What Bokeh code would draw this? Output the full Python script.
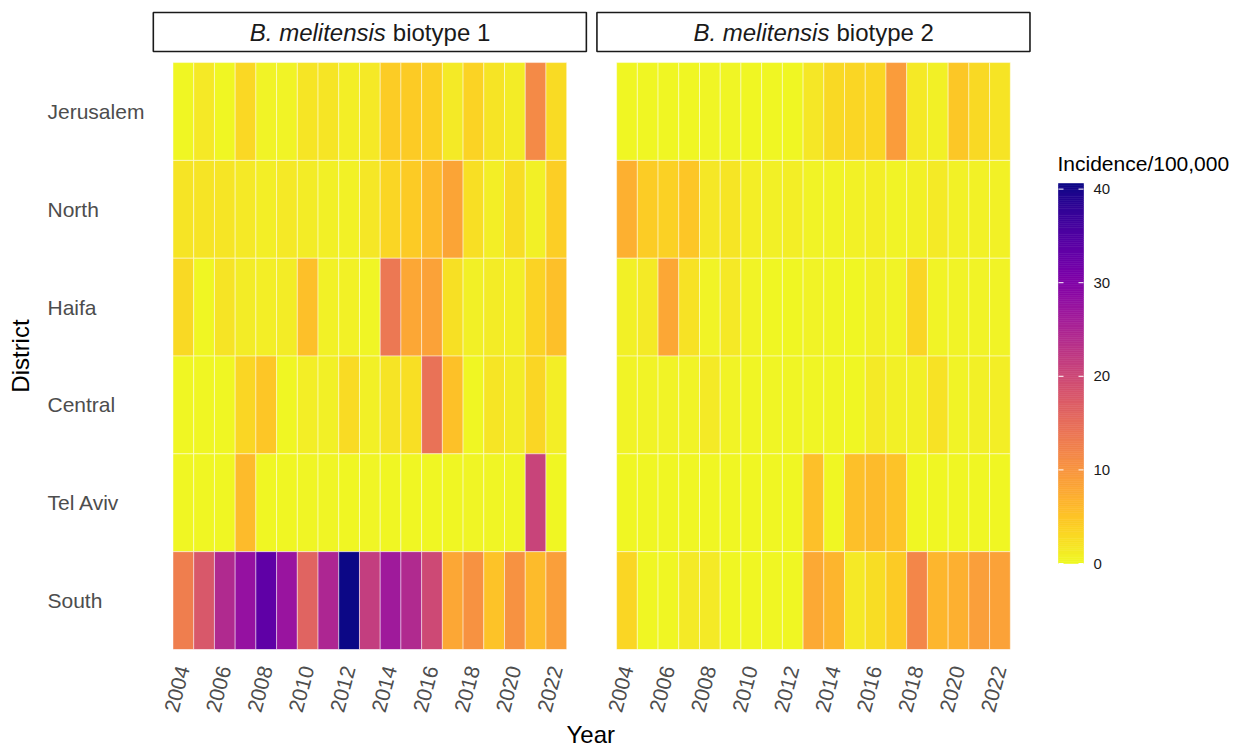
import numpy as np
from bokeh.plotting import figure
from bokeh.models import (ColumnDataSource, LinearColorMapper,
                          FixedTicker, Range1d, Title)
from bokeh.palettes import Plasma256
from bokeh.embed import file_html
from bokeh.resources import INLINE
from bokeh.core.properties import value

# ---------------- data ----------------
years = list(range(2004, 2023))
tick_years = [2004, 2006, 2008, 2010, 2012, 2014, 2016, 2018, 2020, 2022]
districts = ["Jerusalem", "North", "Haifa", "Central", "Tel Aviv", "South"]
strip_italic = ["B. melitensis", "B. melitensis"]
strip_plain = ["biotype 1", "biotype 2"]
legend_title = "Incidence/100,000"
x_title = "Year"
y_title = "District"
cbar_ticks = [0, 10, 20, 30, 40]

# biotype 1 (incidence per 100,000), 2004..2022
b1_jerusalem = [0.3, 1.5, 0.3, 3.1, 0.5, 0.5, 1.8, 1.8, 1.0, 1.5, 4.2, 4.4, 3.9, 1.3, 3.6, 2.0, 1.2, 11.3, 2.8]
b1_north = [2.0, 2.0, 1.8, 1.5, 1.0, 1.5, 1.2, 0.8, 0.7, 1.6, 3.2, 4.4, 6.0, 8.3, 2.5, 1.0, 2.6, 0.8, 4.1]
b1_haifa = [3.0, 0.3, 2.0, 1.2, 1.0, 1.2, 5.5, 0.7, 0.7, 0.4, 13.5, 8.0, 8.6, 2.3, 0.8, 1.2, 1.0, 3.5, 5.4]
b1_central = [0.3, 0.3, 0.3, 3.2, 4.9, 0.3, 1.0, 0.8, 2.8, 0.8, 2.0, 2.4, 14.3, 5.3, 0.3, 1.9, 1.2, 3.2, 1.0]
b1_telaviv = [0.3, 0.3, 0.3, 6.0, 0.3, 0.3, 0.4, 0.4, 0.3, 0.4, 0.3, 0.3, 0.3, 0.3, 0.4, 0.4, 0.4, 20.7, 0.3]
b1_south = [12.8, 17.9, 24.4, 27.8, 33.5, 27.4, 16.2, 24.8, 40.6, 21.5, 26.6, 24.4, 19.9, 8.0, 10.4, 5.2, 10.4, 6.0, 9.0]

# biotype 2
b2_jerusalem = [0.3, 0.3, 0.3, 0.3, 0.4, 0.4, 0.3, 0.3, 0.3, 1.6, 3.0, 3.3, 3.3, 9.2, 1.5, 0.8, 4.6, 2.9, 2.0]
b2_north = [7.0, 4.2, 3.7, 4.8, 1.6, 1.9, 1.0, 0.8, 1.0, 0.5, 0.5, 0.7, 1.1, 0.5, 0.8, 1.4, 0.7, 0.7, 0.7]
b2_haifa = [0.8, 1.3, 8.0, 2.2, 0.5, 1.5, 0.5, 0.3, 0.3, 0.5, 0.4, 0.3, 0.8, 0.5, 3.4, 0.5, 0.5, 0.6, 0.6]
b2_central = [0.5, 0.5, 0.5, 0.5, 1.3, 0.6, 0.4, 0.4, 0.4, 0.4, 0.4, 0.3, 1.3, 0.8, 0.8, 2.2, 0.6, 0.8, 1.0]
b2_telaviv = [0.3, 0.3, 0.3, 0.3, 0.3, 0.3, 0.3, 0.3, 0.3, 5.5, 0.3, 5.5, 5.9, 5.1, 0.3, 0.3, 0.3, 0.3, 0.3]
b2_south = [3.2, 0.3, 0.3, 1.4, 1.3, 0.3, 0.3, 0.3, 0.3, 7.8, 6.6, 1.5, 2.6, 4.4, 11.8, 6.5, 7.0, 9.0, 8.6]

biotype1 = [b1_jerusalem, b1_north, b1_haifa, b1_central, b1_telaviv, b1_south]
biotype2 = [b2_jerusalem, b2_north, b2_haifa, b2_central, b2_telaviv, b2_south]
panels = [biotype1, biotype2]

# ---------------- layout constants ----------------
W, H = 1239, 747
PX = 20.72              # pixels per year
SHIFT = 21.41           # x shift of the second facet panel (years)
EXPAND = 0.95           # ggplot-like 5% expansion of the year axis
LEFT_PX = 172.5         # px from left edge to first tile
FONT = "Liberation Sans"
n_rows = len(districts)
ROW_PX = 97.7
strip_bottom = n_rows + 11 / ROW_PX
strip_top = n_rows + 50 / ROW_PX
y_top = n_rows + 62 / ROW_PX
FRAME_H = 649           # expected plot-area height in px
# colour bar geometry (px)
CB_LEFT, CB_W, CB_BOTTOM, CB_H = 1058, 25, 563, 380

xs, ys, vs = [], [], []
for k, panel in enumerate(panels):
    for i, row in enumerate(panel):
        for yr, v in zip(years, row):
            xs.append(yr + k * SHIFT)
            ys.append(n_rows - i - 0.5)
            vs.append(v)
src = ColumnDataSource(dict(x=xs, y=ys, v=vs))

vmax = max(vs)
mapper = LinearColorMapper(palette=list(reversed(Plasma256)), low=0, high=vmax)

x_start = years[0] - 0.5 - LEFT_PX / PX
x_end = x_start + W / PX
PY = FRAME_H / y_top


def xd(px):
    return x_start + px / PX


def yd(px_from_top):
    return (FRAME_H - px_from_top) / PY


p = figure(width=W, height=H, x_range=Range1d(x_start, x_end),
           y_range=Range1d(0, y_top), output_backend="svg",
           toolbar_location=None, title=None, y_axis_location=None,
           min_border_left=0, min_border_right=0, min_border_top=0,
           min_border_bottom=0)
p.grid.visible = False
p.outline_line_color = None
p.background_fill_color = "white"
p.border_fill_color = "white"

p.rect(x="x", y="y", width=1, height=1, source=src,
       fill_color={"field": "v", "transform": mapper},
       line_color="white", line_width=0.6, line_alpha=0.75)

# facet strips
panel_w = len(years) + 2 * EXPAND
strip_src = ColumnDataSource(dict(
    x=[(years[0] + years[-1]) / 2 + k * SHIFT for k in range(len(panels))],
    y=[(strip_bottom + strip_top) / 2] * len(panels),
    w=[panel_w] * len(panels),
    h=[strip_top - strip_bottom] * len(panels),
    it=strip_italic, pl=strip_plain))
p.rect(x="x", y="y", width="w", height="h", source=strip_src,
       fill_color="white", line_color="#1A1A1A", line_width=1.6)
p.text(x="x", y="y", text="it", source=strip_src, x_offset=16,
       text_align="right", text_baseline="middle", text_font=value(FONT),
       text_font_size="24px", text_font_style="italic", text_color="#1A1A1A")
p.text(x="x", y="y", text="pl", source=strip_src, x_offset=23,
       text_align="left", text_baseline="middle", text_font=value(FONT),
       text_font_size="24px", text_color="#1A1A1A")

# district labels (left aligned) and y title
lab_src = ColumnDataSource(dict(
    x=[x_start] * n_rows, y=[n_rows - i - 0.5 for i in range(n_rows)],
    t=districts))
p.text(x="x", y="y", text="t", source=lab_src, x_offset=47,
       text_align="left", text_baseline="middle", text_font=value(FONT),
       text_font_size="21px", text_color="#4D4D4D")
p.text(x=[x_start], y=[n_rows / 2], text=[y_title], x_offset=20,
       angle=np.pi / 2, text_align="center", text_baseline="middle",
       text_font=value(FONT), text_font_size="24px", text_color="black")

# x axis
tick_pos = [float(t + k * SHIFT) for k in range(len(panels)) for t in tick_years]
p.xaxis.ticker = FixedTicker(ticks=tick_pos)
p.xaxis.major_label_overrides = {float(t + k * SHIFT): str(t)
                                 for k in range(len(panels)) for t in tick_years}
p.xaxis.major_label_orientation = np.deg2rad(75)
p.xaxis.axis_line_color = None
p.xaxis.major_tick_line_color = None
p.xaxis.minor_tick_line_color = None
p.xaxis.major_tick_out = 0
p.xaxis.major_tick_in = 0
p.xaxis.major_label_standoff = 17
p.xaxis.major_label_text_font = FONT
p.xaxis.major_label_text_font_size = "21px"
p.xaxis.major_label_text_color = "#4D4D4D"

p.add_layout(Title(text=x_title, align="left", offset=566, standoff=0,
                   text_font=FONT, text_font_size="24px",
                   text_font_style="normal", text_color="black"), "below")

# ---------------- colour bar (gradient through the same colour mapper) ----
n_steps = 200
levels = np.linspace(0, vmax, n_steps + 1)
cb_y0 = yd(CB_BOTTOM)
cb_h = CB_H / PY
grad = ColumnDataSource(dict(
    left=[xd(CB_LEFT)] * n_steps, right=[xd(CB_LEFT + CB_W)] * n_steps,
    bottom=list(cb_y0 + levels[:-1] / vmax * cb_h),
    top=list(cb_y0 + levels[1:] / vmax * cb_h),
    v=list((levels[:-1] + levels[1:]) / 2)))
p.quad(left="left", right="right", bottom="bottom", top="top", source=grad,
       fill_color={"field": "v", "transform": mapper},
       line_color={"field": "v", "transform": mapper}, line_width=0.6)

tick_y = [cb_y0 + t / vmax * cb_h for t in cbar_ticks]
p.segment(x0=[xd(CB_LEFT)] * len(cbar_ticks), x1=[xd(CB_LEFT + 5)] * len(cbar_ticks),
          y0=tick_y, y1=tick_y, line_color="white", line_width=1)
p.segment(x0=[xd(CB_LEFT + CB_W - 5)] * len(cbar_ticks),
          x1=[xd(CB_LEFT + CB_W)] * len(cbar_ticks),
          y0=tick_y, y1=tick_y, line_color="white", line_width=1)
p.text(x=[xd(CB_LEFT + CB_W + 10)] * len(cbar_ticks), y=tick_y,
       text=[str(t) for t in cbar_ticks], text_align="left",
       text_baseline="middle", text_font=value(FONT), text_font_size="15px",
       text_color="#1A1A1A")
p.text(x=[xd(CB_LEFT - 1)], y=[yd(CB_BOTTOM - CB_H - 20)], text=[legend_title],
       text_align="left", text_baseline="middle", text_font=value(FONT),
       text_font_size="21px", text_color="black")

open("out.html", "w").write(file_html(p, INLINE))
